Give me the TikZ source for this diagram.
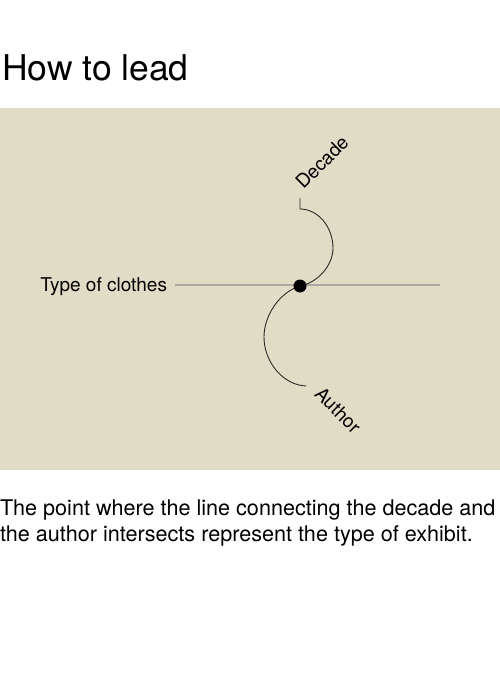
\documentclass[tikz,border=0pt]{standalone}
\usepackage{fontspec}
\setmainfont{TeX Gyre Heros}
\usepackage{tikz}
\usetikzlibrary{positioning}
\definecolor{panel}{RGB}{225,220,198}
\definecolor{rule}{RGB}{170,168,160}
\definecolor{ink}{RGB}{45,42,38}

\begin{document}
\begin{tikzpicture}[
    x=1pt, y=-1pt,
    every node/.style={inner sep=0pt, outer sep=0pt},
    label/.style={font=\fontsize{19}{22}\selectfont, text=black},
    dot/.style={circle, fill=black, minimum size=13pt},
    curve/.style={draw=ink, line width=0.9pt}
]
\useasboundingbox (0,0) rectangle (500,690);

% Panel
\fill[panel] (0,108) rectangle (500,470);

% Nodes
\node[anchor=base west, font=\fontsize{35.5}{38}\selectfont] (title) at (2,81) {How to lead};
\node[label, anchor=base east] (clothes) at (167,291) {Type of clothes};
\node[label, rotate=45] (decade) at (322,162) {Decade};
\node[label, rotate=-45] (author) at (338,410) {Author};
\node[anchor=base west, align=left, font=\fontsize{21.6}{26}\selectfont] (note) at (0,541)
    {The point where the line connecting the decade and\\the author intersects represent the type of exhibit.};
\coordinate (cross) at (300,286);
\coordinate (dtop) at (300,198);
\coordinate (dturn) at (300,209);
\coordinate (lend) at (440,285);
\coordinate (aend) at (306,386);

% Edges
\draw[rule, line width=1.3pt] (clothes.base east) ++(8,-6) -- (lend);
\draw[curve] (dtop) -- (dturn) .. controls (318,209) and (333,227) .. (333,248)
    .. controls (333,266) and (317,283) .. (cross);
\draw[curve] (cross) .. controls (280,292) and (264,315) .. (264,337)
    .. controls (264,362) and (283,385) .. (aend);
\node[dot] (hit) at (cross) {};

\end{tikzpicture}
\end{document}
